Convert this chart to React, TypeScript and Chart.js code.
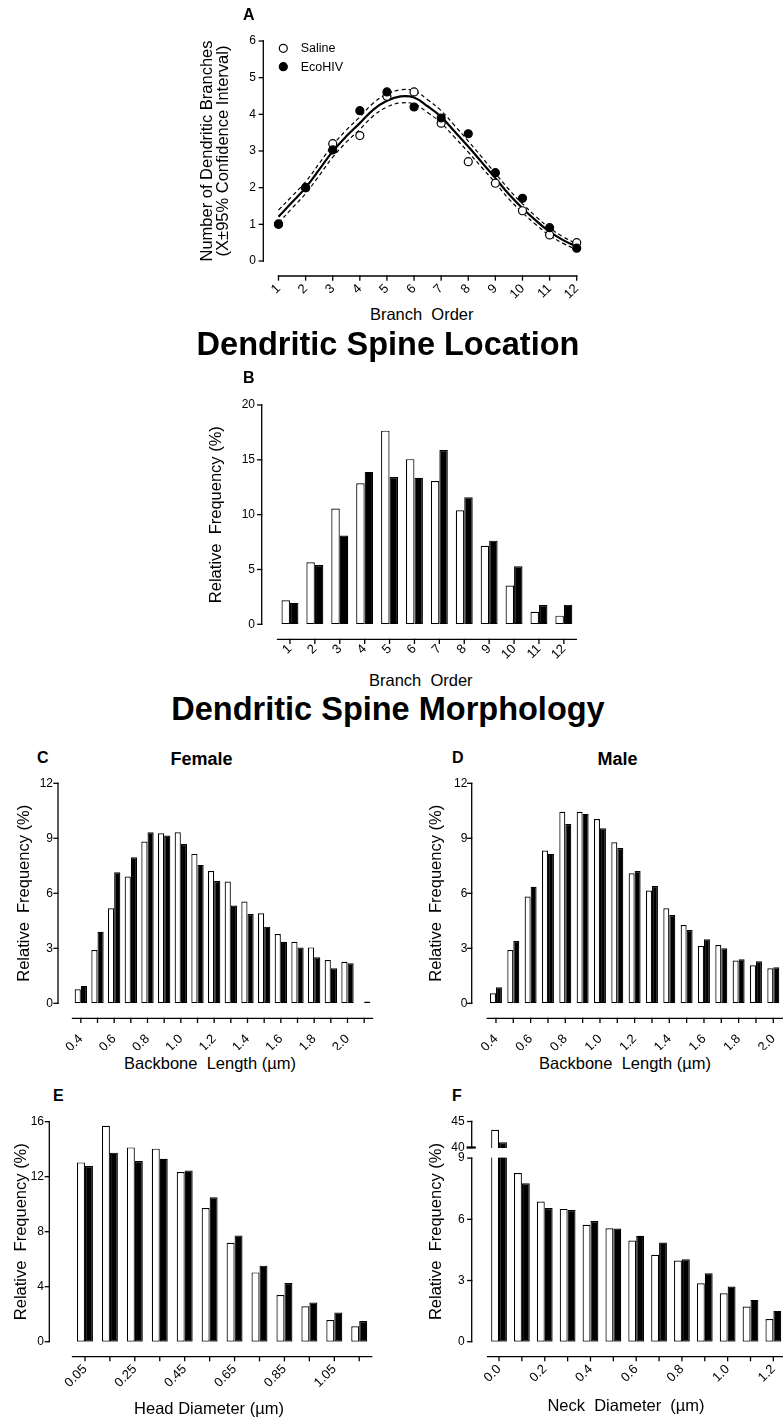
import React, { useEffect, useRef } from 'react';
import { Chart, registerables } from 'chart.js';

Chart.register(...registerables);

const FONT = "'Liberation Sans', Arial, Helvetica, sans-serif";
Chart.defaults.font.family = FONT;
Chart.defaults.color = '#000';

// ---------------- Panel A: number of dendritic branches ----------------
const branchOrder = [1, 2, 3, 4, 5, 6, 7, 8, 9, 10, 11, 12];
const aSaline = [1.0, 2.0, 3.2, 3.42, 4.49, 4.61, 3.76, 2.71, 2.12, 1.37, 0.71, 0.5];
const aEcoHIV = [1.01, 2.0, 3.03, 4.1, 4.61, 4.2, 3.9, 3.47, 2.41, 1.71, 0.91, 0.35];
const fitX = [1, 1.5, 2, 2.5, 3, 3.5, 4, 4.5, 5, 5.5, 6, 6.5, 7, 7.5, 8, 8.5, 9, 9.5, 10, 10.5, 11, 11.5, 12];
const fitMean = [1.21, 1.6, 2.0, 2.49, 2.99, 3.4, 3.76, 4.13, 4.37, 4.49, 4.46, 4.22, 3.93, 3.53, 3.12, 2.69, 2.26, 1.82, 1.44, 1.1, 0.8, 0.57, 0.39];
const fitUpper = [1.39, 1.77, 2.16, 2.66, 3.16, 3.57, 3.93, 4.31, 4.55, 4.67, 4.64, 4.4, 4.1, 3.69, 3.27, 2.83, 2.39, 1.95, 1.56, 1.21, 0.9, 0.66, 0.47];
const fitLower = [1.04, 1.44, 1.84, 2.33, 2.83, 3.24, 3.59, 3.96, 4.2, 4.31, 4.28, 4.05, 3.76, 3.37, 2.97, 2.55, 2.13, 1.69, 1.32, 0.99, 0.7, 0.48, 0.31];

// ---------------- Panel B: spine location ----------------
const bLabels = ['1', '2', '3', '4', '5', '6', '7', '8', '9', '10', '11', '12'];
const bSaline = [2.2, 5.65, 10.55, 12.87, 17.66, 15.06, 13.07, 10.4, 7.17, 3.53, 1.15, 0.79];
const bEcoHIV = [1.95, 5.4, 8.1, 13.9, 13.43, 13.37, 15.9, 11.58, 7.63, 5.29, 1.76, 1.79];

// ---------------- Panels C/D: backbone length ----------------
const lengthBins = ['0.4', '0.5', '0.6', '0.7', '0.8', '0.9', '1.0', '1.1', '1.2', '1.3', '1.4', '1.5', '1.6', '1.7', '1.8', '1.9', '2.0', '2.1'];
const cSaline = [0.76, 2.91, 5.18, 6.91, 8.82, 9.27, 9.33, 8.15, 7.22, 6.64, 5.55, 4.91, 3.78, 3.36, 3.05, 2.36, 2.27, 0];
const cEcoHIV = [0.95, 3.9, 7.15, 7.96, 9.33, 9.15, 8.69, 7.55, 6.67, 5.33, 4.87, 4.18, 3.36, 3.05, 2.51, 1.91, 2.18, 0.1];
const dSaline = [0.55, 2.91, 5.82, 8.33, 10.45, 10.45, 10.05, 8.78, 7.09, 6.15, 5.18, 4.27, 3.13, 3.18, 2.33, 2.07, 1.91, 0];
const dEcoHIV = [0.87, 3.4, 6.36, 8.15, 9.78, 10.33, 9.55, 8.47, 7.22, 6.4, 4.82, 4.0, 3.49, 3.0, 2.4, 2.29, 1.96, 0];

// ---------------- Panel E: head diameter ----------------
const headBins = ['0.05', '0.15', '0.25', '0.35', '0.45', '0.55', '0.65', '0.75', '0.85', '0.95', '1.05', '1.15'];
const eSaline = [13.04, 15.71, 14.13, 14.04, 12.34, 9.72, 7.2, 5.04, 3.39, 2.57, 1.58, 1.12];
const eEcoHIV = [12.78, 13.75, 13.14, 13.31, 12.46, 10.5, 7.73, 5.53, 4.27, 2.86, 2.13, 1.5];

// ---------------- Panel F: neck diameter (broken y axis) ----------------
const neckBins = ['0.0', '0.1', '0.2', '0.3', '0.4', '0.5', '0.6', '0.7', '0.8', '0.9', '1.0', '1.1', '1.2'];
const fSaline = [43.4, 8.27, 6.87, 6.51, 5.73, 5.56, 4.96, 4.26, 3.98, 2.86, 2.37, 1.72, 1.11];
const fEcoHIV = [41.0, 7.77, 6.55, 6.46, 5.92, 5.55, 5.19, 4.86, 4.04, 3.36, 2.7, 2.05, 1.51];
const fYTicks = [0, 3, 6, 9, 40, 45];

// axis break mapping for panel F (lower segment 0-9, upper segment 40-45)
const BREAK_LOW = 9;
const BREAK_HIGH = 40;
const BREAK_GAP = 0.52;
const UPPER_RATIO = 0.255;
const tF = (v: number) => (v <= BREAK_LOW ? v : BREAK_LOW + BREAK_GAP + (v - BREAK_HIGH) * UPPER_RATIO);

const Y_TICK_FONT = 12;
const X_TICK_FONT = 13;

// ---------------- plugins ----------------
const prismAxes = {
  id: 'prismAxes',
  afterDatasetsDraw(chart: any, _a: any, o: any) {
    if (!o || !o.band) return;
    const { ctx, chartArea } = chart;
    const ys = chart.scales.y;
    const pHigh = ys.getPixelForValue(o.band[1]);
    const pLow = ys.getPixelForValue(o.band[0]);
    ctx.save();
    ctx.fillStyle = '#fff';
    ctx.fillRect(chartArea.left - 2, pHigh + 0.5, chartArea.right - chartArea.left + 4, pLow - pHigh - 1);
    ctx.restore();
  },
  afterDraw(chart: any, _a: any, o: any) {
    const { ctx, chartArea } = chart;
    const xs = chart.scales.x;
    const ys = chart.scales.y;
    const tl = o.tick;
    const line = (x1: number, y1: number, x2: number, y2: number) => {
      ctx.beginPath();
      ctx.moveTo(x1, y1);
      ctx.lineTo(x2, y2);
      ctx.stroke();
    };
    ctx.save();
    ctx.strokeStyle = '#000';
    ctx.lineWidth = o.lw;
    ctx.lineCap = 'square';
    // y axis
    const ax = chartArea.left - o.yGap;
    for (let i = 0; i < o.ySeg.length; i += 2) {
      line(ax, ys.getPixelForValue(o.ySeg[i]), ax, ys.getPixelForValue(o.ySeg[i + 1]));
    }
    ys.ticks.forEach((t: any) => {
      const p = ys.getPixelForValue(t.value);
      line(ax - tl, p, ax, p);
    });
    if (o.breakMark !== undefined && o.breakMark !== null) {
      const p = ys.getPixelForValue(o.breakMark);
      ctx.lineWidth = 2.2;
      line(ax - tl, p, ax + 3, p);
      ctx.lineWidth = o.lw;
    }
    // x axis (offset below the plot)
    const ay = chartArea.bottom + o.xGap;
    line(chartArea.left, ay, chartArea.right, ay);
    xs.ticks.forEach((_t: any, i: number) => {
      const p = xs.getPixelForTick(i);
      line(p, ay, p, ay + tl);
    });
    ctx.restore();
  },
};

const insideLegend = {
  id: 'insideLegend',
  afterDraw(chart: any, _a: any, o: any) {
    if (!o || !o.order) return;
    const { ctx, chartArea } = chart;
    ctx.save();
    o.order.forEach((dsIndex: number, i: number) => {
      const ds = chart.data.datasets[dsIndex];
      const cx = chartArea.left + o.dx;
      const cy = chartArea.top + o.dy + i * o.step;
      ctx.beginPath();
      ctx.arc(cx, cy, ds.pointRadius, 0, Math.PI * 2);
      ctx.fillStyle = ds.pointBackgroundColor;
      ctx.fill();
      ctx.lineWidth = ds.pointBorderWidth;
      ctx.strokeStyle = ds.pointBorderColor;
      ctx.stroke();
      ctx.fillStyle = '#000';
      ctx.font = `${o.fontSize}px ${FONT}`;
      ctx.textBaseline = 'middle';
      ctx.textAlign = 'left';
      ctx.fillText(ds.label, cx + o.textDx, cy + 0.5);
    });
    ctx.restore();
  },
};

// ---------------- geometry (page pixels) ----------------
type Geo = { left: number; top: number; width: number; height: number; aL: number; aT: number; aR: number; aB: number };
const geoA: Geo = { left: 190, top: 0, width: 420, height: 300, aL: 278.5, aT: 41, aR: 576.7, aB: 261 };
const geoB: Geo = { left: 190, top: 360, width: 420, height: 300, aL: 277.5, aT: 405, aR: 576.3, aB: 624.3 };
const geoC: Geo = { left: 0, top: 775, width: 390, height: 275, aL: 72.5, aT: 783.3, aR: 372.5, aB: 1003.3 };
const geoD: Geo = { left: 390, top: 775, width: 420, height: 275, aL: 487.3, aT: 783.3, aR: 799.3, aB: 1003.3 };
const geoE: Geo = { left: 0, top: 1110, width: 390, height: 308, aL: 72.5, aT: 1121.7, aR: 371.7, aB: 1341.7 };
const geoF: Geo = { left: 390, top: 1110, width: 410, height: 308, aL: 487.6, aT: 1121.5, aR: 784.8, aB: 1341.7 };

function layoutFor(g: Geo) {
  return { autoPadding: false, padding: { left: 0, top: g.aT - g.top, right: g.left + g.width - g.aR, bottom: 0 } };
}

function xScaleBase(g: Geo, tickPad: number, callback: any) {
  const xH = g.top + g.height - g.aB;
  return {
    grid: { display: false, drawTicks: false },
    border: { display: false },
    ticks: { autoSkip: false, maxRotation: 45, minRotation: 45, padding: tickPad, font: { size: X_TICK_FONT }, color: '#000', callback },
    afterFit: (s: any) => {
      s.height = xH;
      s.paddingLeft = 0; s.paddingRight = 0; s.paddingTop = 0; s.paddingBottom = 0;
    },
  };
}

function yScaleBase(g: Geo, tickPad: number, title: any, titlePad: number) {
  const yW = g.aL - g.left;
  return {
    grid: { display: false, drawTicks: false },
    border: { display: false },
    ticks: { padding: tickPad, font: { size: Y_TICK_FONT }, color: '#000' },
    title: { display: true, text: title, color: '#000', font: { size: 16.5, lineHeight: 1.0 }, padding: { top: titlePad, bottom: 0 } },
    afterFit: (s: any) => {
      s.width = yW;
      s.paddingLeft = 0; s.paddingRight = 0; s.paddingTop = 0; s.paddingBottom = 0;
    },
  };
}

function configA() {
  const g = geoA;
  const pts = (ys: number[]) => branchOrder.map((x, i) => ({ x, y: ys[i] }));
  const curve = (ys: number[]) => fitX.map((x, i) => ({ x, y: ys[i] }));
  const y = yScaleBase(g, 22.5, ['Number of Dendritic Branches', '(X\u00B195% Confidence Interval)'], 9.2) as any;
  y.min = 0; y.max = 6; y.ticks.stepSize = 1;
  const x = xScaleBase(g, 20, (v: any) => String(v)) as any;
  x.type = 'linear'; x.min = 1; x.max = 12; x.ticks.stepSize = 1;
  return {
    type: 'scatter',
    data: {
      datasets: [
        { label: 'EcoHIV', data: pts(aEcoHIV), showLine: false, pointRadius: 4, pointBackgroundColor: '#000', pointBorderColor: '#000', pointBorderWidth: 1.2, backgroundColor: '#000', borderColor: '#000', clip: false },
        { label: 'Saline', data: pts(aSaline), showLine: false, pointRadius: 4, pointBackgroundColor: '#fff', pointBorderColor: '#000', pointBorderWidth: 1.2, backgroundColor: '#fff', borderColor: '#000', clip: false },
        { label: 'Fit', data: curve(fitMean), showLine: true, pointRadius: 0, borderColor: '#000', borderWidth: 2.2, tension: 0.4, clip: false },
        { label: 'Upper 95% CI', data: curve(fitUpper), showLine: true, pointRadius: 0, borderColor: '#000', borderWidth: 1.2, borderDash: [4, 3], tension: 0.4, clip: false },
        { label: 'Lower 95% CI', data: curve(fitLower), showLine: true, pointRadius: 0, borderColor: '#000', borderWidth: 1.2, borderDash: [4, 3], tension: 0.4, clip: false },
      ],
    },
    options: {
      responsive: false, animation: false, events: [],
      layout: layoutFor(g),
      plugins: {
        legend: { display: false }, tooltip: { enabled: false },
        prismAxes: { yGap: 15.2, xGap: 15, tick: 4, lw: 1.3, ySeg: [0, 6] },
        insideLegend: { order: [1, 0], dx: 4.8, dy: 7.3, step: 18.4, textDx: 17.4, fontSize: 12.5 },
      },
      scales: { x, y },
    },
    plugins: [prismAxes, insideLegend],
  };
}

type BarOpts = {
  g: Geo; labels: string[]; saline: number[]; eco: number[]; yMax: number; yStep?: number;
  catPct: number; yTitle: string; yTitlePad: number; yTickPad: number; xTickPad: number; yGap: number;
  every: number; broken?: boolean;
};

function barConfig(p: BarOpts) {
  const map = p.broken ? tF : (v: number) => v;
  const y = yScaleBase(p.g, p.yTickPad, p.yTitle, p.yTitlePad) as any;
  y.min = 0; y.max = map(p.yMax);
  if (p.broken) {
    y.afterBuildTicks = (s: any) => { s.ticks = fYTicks.map((v) => ({ value: tF(v) })); };
    y.ticks.callback = (_v: any, i: number) => String(fYTicks[i]);
  } else {
    y.ticks.stepSize = p.yStep;
  }
  const x = xScaleBase(p.g, p.xTickPad, (_v: any, i: number) => (i % p.every === 0 ? p.labels[i] : '')) as any;
  const common = { categoryPercentage: p.catPct, barPercentage: 1, borderColor: '#000', borderWidth: 1.2, borderSkipped: false };
  return {
    type: 'bar',
    data: {
      labels: p.labels,
      datasets: [
        { label: 'Saline', data: p.saline.map(map), backgroundColor: '#fff', ...common },
        { label: 'EcoHIV', data: p.eco.map(map), backgroundColor: '#000', ...common },
      ],
    },
    options: {
      responsive: false, animation: false, events: [],
      layout: layoutFor(p.g),
      plugins: {
        legend: { display: false }, tooltip: { enabled: false },
        prismAxes: p.broken
          ? { yGap: p.yGap, xGap: 15, tick: 4, lw: 1.3, ySeg: [0, BREAK_LOW, tF(BREAK_HIGH), tF(45)], band: [BREAK_LOW, tF(BREAK_HIGH)], breakMark: tF(BREAK_HIGH) }
          : { yGap: p.yGap, xGap: 15, tick: 4, lw: 1.3, ySeg: [0, p.yMax] },
      },
      scales: { x, y },
    },
    plugins: [prismAxes],
  };
}

function ChartBox({ g, build }: { g: Geo; build: () => any }) {
  const ref = useRef<HTMLCanvasElement>(null);
  useEffect(() => {
    const chart = new Chart(ref.current as HTMLCanvasElement, build());
    return () => chart.destroy();
  }, []);
  return (
    <canvas
      ref={ref}
      width={g.width}
      height={g.height}
      style={{ position: 'absolute', left: g.left, top: g.top, width: g.width, height: g.height }}
    />
  );
}

function Txt({ x, capTop, size, bold, center, children }: { x: number; capTop: number; size: number; bold?: boolean; center?: boolean; children: any }) {
  const style: any = {
    position: 'absolute',
    top: capTop - 0.1305 * size,
    left: x,
    fontFamily: FONT,
    fontSize: size,
    fontWeight: bold ? 'bold' : 'normal',
    lineHeight: 1,
    whiteSpace: 'pre',
    color: '#000',
  };
  if (center) style.transform = 'translateX(-50%)';
  return <div style={style}>{children}</div>;
}

export default function App() {
  useEffect(() => {
    document.body.style.margin = '0';
    document.body.style.overflow = 'hidden';
  }, []);
  return (
    <div style={{ position: 'fixed', left: 0, top: 0, width: 783, height: 1418, overflow: 'hidden', background: '#fff' }}>
      <ChartBox g={geoA} build={configA} />
      <ChartBox g={geoB} build={() => barConfig({ g: geoB, labels: bLabels, saline: bSaline, eco: bEcoHIV, yMax: 20, yStep: 5, catPct: 0.68, yTitle: 'Relative  Frequency (%)', yTitlePad: 18, yTickPad: 22.5, xTickPad: 17, yGap: 15.8, every: 1 })} />
      <ChartBox g={geoC} build={() => barConfig({ g: geoC, labels: lengthBins, saline: cSaline, eco: cEcoHIV, yMax: 12, yStep: 3, catPct: 0.74, yTitle: 'Relative  Frequency (%)', yTitlePad: 16, yTickPad: 19.5, xTickPad: 28, yGap: 14.5, every: 2 })} />
      <ChartBox g={geoD} build={() => barConfig({ g: geoD, labels: lengthBins, saline: dSaline, eco: dEcoHIV, yMax: 12, yStep: 3, catPct: 0.69, yTitle: 'Relative  Frequency (%)', yTitlePad: 38.5, yTickPad: 20, xTickPad: 28, yGap: 15.6, every: 2 })} />
      <ChartBox g={geoE} build={() => barConfig({ g: geoE, labels: headBins, saline: eSaline, eco: eEcoHIV, yMax: 16, yStep: 4, catPct: 0.64, yTitle: 'Relative  Frequency (%)', yTitlePad: 13.5, yTickPad: 28.5, xTickPad: 20, yGap: 23.2, every: 2 })} />
      <ChartBox g={geoF} build={() => barConfig({ g: geoF, labels: neckBins, saline: fSaline, eco: fEcoHIV, yMax: 45, catPct: 0.69, yTitle: 'Relative  Frequency (%)', yTitlePad: 38.5, yTickPad: 23, xTickPad: 20, yGap: 15.9, every: 2, broken: true })} />

      <Txt x={243} capTop={9} size={16} bold>A</Txt>
      <Txt x={421.7} capTop={308} size={16.5} center>{'Branch  Order'}</Txt>
      <Txt x={388} capTop={332} size={32.5} bold center>Dendritic Spine Location</Txt>
      <Txt x={243} capTop={372} size={16} bold>B</Txt>
      <Txt x={420.8} capTop={674} size={16.5} center>{'Branch  Order'}</Txt>
      <Txt x={388} capTop={697} size={32.5} bold center>Dendritic Spine Morphology</Txt>
      <Txt x={37} capTop={752} size={16} bold>C</Txt>
      <Txt x={201.5} capTop={752} size={18} bold center>Female</Txt>
      <Txt x={452} capTop={752} size={16} bold>D</Txt>
      <Txt x={617.5} capTop={752} size={18} bold center>Male</Txt>
      <Txt x={210} capTop={1057} size={16.5} center>{'Backbone  Length (\u00B5m)'}</Txt>
      <Txt x={625} capTop={1057} size={16.5} center>{'Backbone  Length (\u00B5m)'}</Txt>
      <Txt x={53} capTop={1090} size={16} bold>E</Txt>
      <Txt x={452} capTop={1090} size={16} bold>F</Txt>
      <Txt x={209} capTop={1402} size={16.5} center>{'Head Diameter (\u00B5m)'}</Txt>
      <Txt x={626} capTop={1399} size={16.5} center>{'Neck  Diameter  (\u00B5m)'}</Txt>
    </div>
  );
}
